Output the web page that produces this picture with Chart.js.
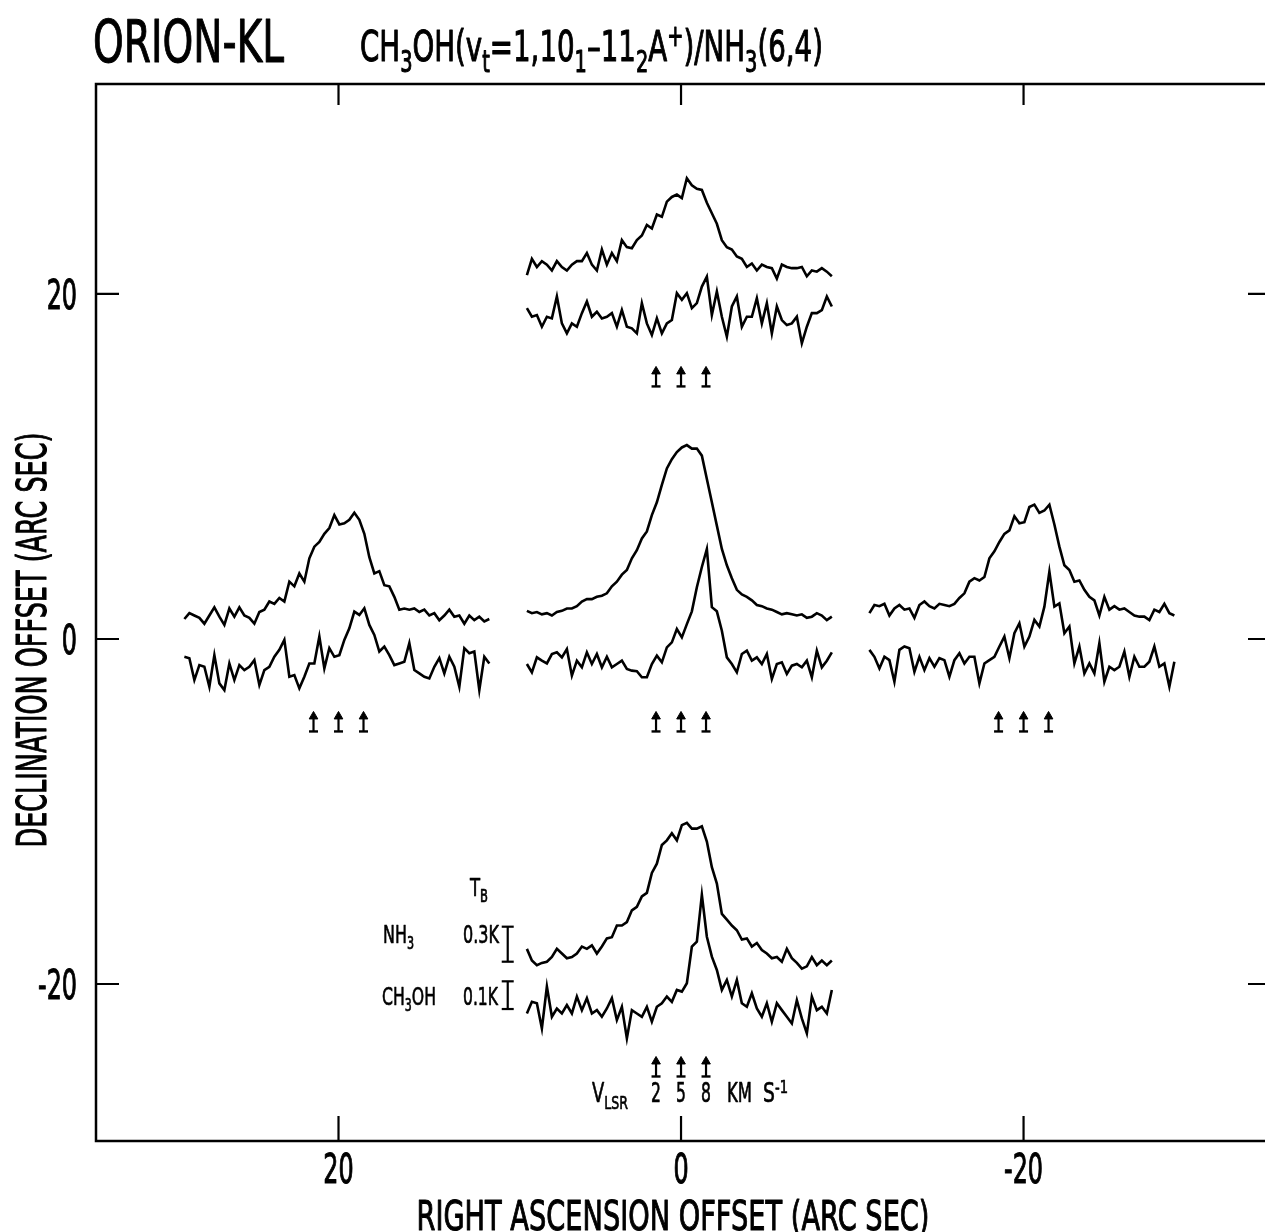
<!DOCTYPE html>
<html>
<head>
<meta charset="utf-8">
<title>ORION-KL CH3OH / NH3 spectra</title>
<script src="https://cdn.jsdelivr.net/npm/chart.js@4/dist/chart.umd.min.js"></script>
<style>
  html, body { margin: 0; padding: 0; background: #fff; overflow: hidden; }
  #wrap { position: relative; width: 1280px; height: 1232px; }
</style>
</head>
<body>
<div id="wrap"><canvas id="map"></canvas></div>
<script>
/* ORION-KL: CH3OH(vt=1) and NH3(6,4) spectra placed on the RA/Dec offset grid */

// velocity channels (km/s), shared by every spectrum
const VELOCITY = [-13.5, -12.9, -12.3, -11.7, -11.1, -10.5, -9.9, -9.3, -8.7, -8.1,
  -7.5, -6.9, -6.3, -5.7, -5.1, -4.5, -3.9, -3.3, -2.7, -2.1,
  -1.5, -0.9, -0.3, 0.3, 0.9, 1.5, 2.1, 2.7, 3.3, 3.9,
  4.5, 5.1, 5.7, 6.3, 6.9, 7.5, 8.1, 8.7, 9.3, 9.9,
  10.5, 11.1, 11.7, 12.3, 12.9, 13.5, 14.1, 14.7, 15.3, 15.9,
  16.5, 17.1, 17.7, 18.3, 18.9, 19.5, 20.1, 20.7, 21.3, 21.9,
  22.5, 23.1];
const V_REF = 5;               // velocity sitting on the grid position
const ARROW_V = [2, 5, 8];     // marked velocities
const TICKS = [20, 0, -20];
const TICK_LABELS = ["20", "0", "-20"];

// observed positions (arc sec): north, east, centre, west, south
const POS_RA = [0, 20, 0, -20, 0];
const POS_DEC = [20, 0, 0, 0, -20];

// NH3(6,4) brightness temperature (K)
const NH3_N20 = [-0.03, 0.11, 0.04, 0.09, 0.06, 0.01, 0.09, 0.04, 0.01, 0.06,
  0.09, 0.09, 0.16, 0.06, 0.01, 0.19, 0.06, 0.16, 0.09, 0.27,
  0.21, 0.2, 0.27, 0.31, 0.4, 0.37, 0.49, 0.47, 0.6, 0.64,
  0.66, 0.63, 0.8, 0.74, 0.71, 0.7, 0.59, 0.5, 0.41, 0.27,
  0.21, 0.19, 0.13, 0.11, 0.04, 0.07, 0.01, 0.06, 0.04, 0.03,
  -0.06, 0.06, 0.04, 0.03, 0.03, 0.04, -0.04, 0.01, 0, 0.03,
  0, -0.04];
const NH3_E20 = [-0.02, 0.03, 0.01, -0.01, -0.06, 0.01, 0.08, 0, -0.07, 0.07,
  0, 0.08, 0.01, -0.01, -0.06, 0.04, 0.06, 0.13, 0.11, 0.16,
  0.13, 0.3, 0.26, 0.37, 0.3, 0.5, 0.6, 0.64, 0.71, 0.76,
  0.87, 0.79, 0.8, 0.83, 0.89, 0.83, 0.71, 0.51, 0.37, 0.39,
  0.27, 0.26, 0.17, 0.06, 0.07, 0.06, 0.07, 0.04, 0.06, 0.01,
  0.03, -0.03, 0.01, 0.06, 0, 0.01, -0.06, 0.01, -0.03, 0,
  -0.04, -0.02];
const NH3_C = [0.05, 0.03, 0.04, 0.02, 0.03, 0.01, 0.04, 0.05, 0.07, 0.07,
  0.09, 0.13, 0.15, 0.15, 0.17, 0.18, 0.2, 0.26, 0.3, 0.36,
  0.4, 0.5, 0.57, 0.67, 0.73, 0.87, 0.98, 1.13, 1.27, 1.35,
  1.41, 1.45, 1.47, 1.44, 1.44, 1.38, 1.18, 0.98, 0.78, 0.58,
  0.44, 0.33, 0.23, 0.19, 0.17, 0.14, 0.1, 0.09, 0.07, 0.06,
  0.04, 0.02, 0.03, 0.02, 0.01, 0.02, -0.01, 0, 0.03, 0.01,
  -0.03, 0];
const NH3_W20 = [0.03, 0.1, 0.09, 0.11, 0.01, 0.07, 0.1, 0.06, 0.07, -0.01,
  0.1, 0.13, 0.09, 0.07, 0.11, 0.1, 0.09, 0.11, 0.16, 0.2,
  0.3, 0.33, 0.31, 0.34, 0.5, 0.56, 0.64, 0.71, 0.74, 0.86,
  0.8, 0.81, 0.94, 0.96, 0.89, 0.91, 0.96, 0.79, 0.6, 0.44,
  0.4, 0.3, 0.31, 0.23, 0.17, 0.14, 0.01, 0.17, 0.06, 0.09,
  0.06, 0.07, 0.04, 0.01, 0, 0, -0.03, 0.06, 0.04, 0.11,
  0.03, 0.01];
const NH3_S20 = [0.11, 0.01, -0.03, -0.01, 0, 0.04, 0.11, 0.07, 0.03, 0.04,
  0.07, 0.13, 0.11, 0.14, 0.07, 0.13, 0.2, 0.21, 0.31, 0.31,
  0.34, 0.44, 0.47, 0.56, 0.59, 0.76, 0.84, 1.0, 1.04, 1.1,
  1.04, 1.17, 1.19, 1.14, 1.14, 1.16, 1.03, 0.81, 0.67, 0.41,
  0.36, 0.31, 0.27, 0.19, 0.2, 0.13, 0.16, 0.1, 0.07, 0.03,
  0.04, 0, 0.11, 0.03, -0.01, -0.06, -0.04, 0.04, -0.03, 0.01,
  -0.03, 0.01];

// CH3OH(vt=1, 10_1-11_2 A+) brightness temperature (K)
const CH3OH_N20 = [0.039, 0.008, 0.014, -0.028, 0.008, 0.002, 0.081, -0.016, -0.052, -0.016,
  -0.028, 0.021, 0.063, 0.008, 0.026, 0.002, 0.008, 0.021, -0.028, 0.032,
  -0.028, -0.034, -0.052, 0.057, -0.016, -0.058, 0.002, -0.052, -0.016, -0.004,
  0.093, 0.069, 0.093, 0.039, 0.057, 0.117, 0.153, 0.014, 0.099, 0.008,
  -0.064, 0.045, 0.081, -0.028, 0.008, 0.008, 0.075, -0.016, 0.057, -0.052,
  0.045, -0.004, -0.022, -0.016, 0.008, -0.088, -0.028, 0.021, 0.021, 0.032,
  0.081, 0.045];
const CH3OH_E20 = [0.026, 0.021, -0.058, -0.004, -0.01, -0.082, 0.032, -0.07, -0.094, 0.002,
  -0.058, -0.004, -0.022, -0.01, 0.014, -0.076, -0.022, -0.01, 0.026, 0.051,
  0.087, -0.046, -0.04, -0.088, -0.046, 0.002, 0.002, 0.099, -0.016, 0.057,
  0.026, 0.032, 0.087, 0.129, 0.189, 0.177, 0.201, 0.141, 0.105, 0.045,
  0.063, 0.032, -0.004, 0.002, 0.008, 0.075, -0.022, -0.034, -0.046, -0.052,
  -0.01, 0.021, -0.034, 0.026, -0.01, -0.082, 0.057, 0.039, 0.045, -0.094,
  0.026, 0.002];
const CH3OH_C = [0, -0.03, 0.024, 0.012, 0.002, 0.036, 0.042, 0.024, 0.054, -0.042,
  0.012, -0.012, 0.042, 0, 0.036, -0.012, 0.026, -0.012, 0, 0.012,
  -0.018, -0.024, -0.026, -0.048, -0.048, 0, 0.03, 0.006, 0.06, 0.078,
  0.126, 0.096, 0.144, 0.19, 0.277, 0.35, 0.415, 0.205, 0.19, 0.12,
  0.024, 0, -0.03, 0.036, 0.048, 0.012, 0.024, 0, 0.036, -0.054,
  0, 0.006, -0.036, -0.006, 0, -0.012, 0.012, -0.048, 0.048, -0.012,
  0.012, 0.042];
const CH3OH_W20 = [0.051, 0.026, -0.016, 0.026, 0.014, -0.064, 0.051, 0.063, 0.057, -0.028,
  0.026, -0.022, 0.021, -0.01, 0.021, 0.014, -0.046, 0.014, 0.039, 0.002,
  0.026, 0.026, -0.07, 0.002, 0.014, 0.026, 0.063, 0.099, 0.021, 0.111,
  0.147, 0.063, 0.099, 0.159, 0.135, 0.207, 0.333, 0.207, 0.219, 0.111,
  0.135, 0.002, 0.063, -0.034, 0.002, -0.034, 0.075, -0.064, -0.01, -0.022,
  -0.01, 0.045, -0.046, 0.026, -0.01, -0.01, 0.008, 0.063, -0.01, 0.002,
  -0.082, 0.008];
const CH3OH_S20 = [-0.016, 0.026, 0.021, -0.07, 0.081, -0.028, 0.002, -0.016, 0.014, -0.016,
  0.045, -0.004, 0.039, -0.016, -0.004, -0.028, 0.002, 0.039, -0.04, 0.008,
  -0.106, -0.004, -0.016, -0.028, 0.008, -0.046, 0.008, 0.021, 0.045, 0.026,
  0.069, 0.063, 0.093, 0.225, 0.243, 0.412, 0.261, 0.189, 0.141, 0.069,
  0.105, 0.045, 0.105, 0.021, 0.008, 0.057, 0.002, -0.028, 0.021, -0.046,
  0.021, -0.004, -0.028, -0.052, 0.032, -0.034, -0.088, 0.045, -0.004, 0.008,
  -0.016, 0.069];

const NH3_SPECTRA = [NH3_N20, NH3_E20, NH3_C, NH3_W20, NH3_S20];
const CH3OH_SPECTRA = [CH3OH_N20, CH3OH_E20, CH3OH_C, CH3OH_W20, CH3OH_S20];

// temperature scale bars (drawn beside the southern spectrum)
const SCALE_BAR_V = -15.8;
const NH3_BAR_K = 0.3;
const CH3OH_BAR_K = 0.1;

// how a spectrum is laid onto the offset map
const ARCSEC_PER_KMS = 0.4865;
const NH3_ARCSEC_PER_K = 6.765;
const CH3OH_ARCSEC_PER_K = 16.06;
const NH3_BASE = 1.293;
const CH3OH_BASE = -1.45;
const ARROW_BASE = -5.36;
const ARROW_TIP = -4.49;
const INK = "#000";

function velToRa(ra, v) {
  return ra - (v - V_REF) * ARCSEC_PER_KMS;
}

function spectrum(values, ra, dec, base, perK) {
  return VELOCITY.map((v, i) => ({ x: velToRa(ra, v), y: dec + base + values[i] * perK }));
}

function lineSet(data, extra) {
  return Object.assign({
    data,
    borderColor: INK,
    borderWidth: 2.6,
    pointRadius: 0,
    tension: 0,
    fill: false,
  }, extra || {});
}

const datasets = [];
POS_RA.forEach((ra, p) => {
  const dec = POS_DEC[p];
  datasets.push(lineSet(spectrum(NH3_SPECTRA[p], ra, dec, NH3_BASE, NH3_ARCSEC_PER_K)));
  datasets.push(lineSet(spectrum(CH3OH_SPECTRA[p], ra, dec, CH3OH_BASE, CH3OH_ARCSEC_PER_K)));
  ARROW_V.forEach((v) => {
    const x = velToRa(ra, v);
    datasets.push(lineSet([{ x, y: dec + ARROW_BASE }, { x, y: dec + ARROW_TIP }], {
      borderWidth: 2.2,
      pointStyle: ["line", "triangle"],
      pointRadius: [4.5, 5],
      pointBorderWidth: [2.4, 1],
      pointBorderColor: INK,
      pointBackgroundColor: INK,
    }));
  });
});

// scale bars on the southern position
const barX = velToRa(POS_RA[4], SCALE_BAR_V);
const barDec = POS_DEC[4];
[[NH3_BASE, NH3_BAR_K * NH3_ARCSEC_PER_K], [CH3OH_BASE, CH3OH_BAR_K * CH3OH_ARCSEC_PER_K]].forEach(([base, len]) => {
  datasets.push(lineSet([{ x: barX, y: barDec + base }, { x: barX, y: barDec + base + len }], {
    borderWidth: 2.2,
    pointStyle: "line",
    pointRadius: 6,
    pointBorderWidth: 2.2,
    pointBorderColor: INK,
  }));
});

// plotter-like condensed lettering
function drawRuns(ctx, runs, o) {
  const size = o.cap / 0.729;
  const pieces = runs.map(([t, k]) => {
    const s = k === "n" ? size : size * 0.7;
    ctx.font = `${s}px "DejaVu Sans"`;
    return { t, k, s, w: ctx.measureText(t).width };
  });
  const natural = pieces.reduce((a, p) => a + p.w, 0);
  const sx = o.width ? o.width / natural : (o.sx || 0.58);
  const total = natural * sx;
  ctx.save();
  ctx.translate(o.x, o.y);
  if (o.rotate) ctx.rotate(o.rotate);
  const start = o.align === "center" ? -total / 2 : o.align === "right" ? -total : 0;
  ctx.scale(sx, 1);
  ctx.fillStyle = INK;
  ctx.strokeStyle = INK;
  ctx.lineWidth = o.cap > 25 ? 1.1 : 0.7;
  ctx.lineJoin = "round";
  ctx.textAlign = "left";
  ctx.textBaseline = "alphabetic";
  let cx = start / sx;
  pieces.forEach((p) => {
    ctx.font = `${p.s}px "DejaVu Sans"`;
    const dy = p.k === "sub" ? o.cap * 0.36 : p.k === "sup" ? -o.cap * 0.5 : 0;
    ctx.fillText(p.t, cx, dy);
    ctx.strokeText(p.t, cx, dy);
    cx += p.w;
  });
  ctx.restore();
}

const framePlugin = {
  id: "frame",
  afterDraw(chart) {
    const { ctx, chartArea: a, scales } = chart;
    const xs = scales.x, ys = scales.y;
    ctx.save();
    ctx.strokeStyle = INK;
    ctx.lineWidth = 2.5;
    ctx.strokeRect(a.left, a.top, a.right - a.left, a.bottom - a.top);
    ctx.lineWidth = 2.2;
    ctx.beginPath();
    TICKS.forEach((t) => {
      const x = xs.getPixelForValue(t);
      const y = ys.getPixelForValue(t);
      ctx.moveTo(x, a.top); ctx.lineTo(x, a.top + 21);
      ctx.moveTo(x, a.bottom); ctx.lineTo(x, a.bottom - 25);
      ctx.moveTo(a.left, y); ctx.lineTo(a.left + 23, y);
      ctx.moveTo(a.right, y); ctx.lineTo(a.right - 22, y);
    });
    ctx.stroke();
    ctx.restore();

    TICKS.forEach((t, i) => {
      drawRuns(ctx, [[TICK_LABELS[i], "n"]], { x: xs.getPixelForValue(t), y: a.bottom + 42, cap: 30, align: "center" });
      drawRuns(ctx, [[TICK_LABELS[i], "n"]], { x: a.left - 19, y: ys.getPixelForValue(t) + 15, cap: 30, align: "right" });
    });

    drawRuns(ctx, [["RIGHT ASCENSION OFFSET (ARC SEC)", "n"]], { x: 673, y: 1230, cap: 30, width: 513, align: "center" });
    drawRuns(ctx, [["DECLINATION OFFSET (ARC SEC)", "n"]], { x: 46, y: 640, cap: 30, width: 415, align: "center", rotate: -Math.PI / 2 });

    drawRuns(ctx, [["ORION-KL", "n"]], { x: 93, y: 62, cap: 43, width: 191 });
    drawRuns(ctx, [["CH", "n"], ["3", "sub"], ["OH(v", "n"], ["t", "sub"], ["=1,10", "n"], ["1", "sub"],
      ["\u201311", "n"], ["2", "sub"], ["A", "n"], ["+", "sup"], [")/NH", "n"], ["3", "sub"], ["(6,4)", "n"]],
      { x: 360, y: 61, cap: 31, width: 463 });

    // annotations beside the southern spectrum
    drawRuns(ctx, [["T", "n"], ["B", "sub"]], { x: 470, y: 896, cap: 18, width: 18 });
    drawRuns(ctx, [["NH", "n"], ["3", "sub"]], { x: 383, y: 943, cap: 18, width: 31 });
    drawRuns(ctx, [["CH", "n"], ["3", "sub"], ["OH", "n"]], { x: 382, y: 1005, cap: 18, width: 54 });
    drawRuns(ctx, [["0.3K", "n"]], { x: 463, y: 943, cap: 18, width: 36 });
    drawRuns(ctx, [["0.1K", "n"]], { x: 463, y: 1005, cap: 18, width: 35 });
    drawRuns(ctx, [["V", "n"], ["LSR", "sub"]], { x: 592, y: 1102, cap: 19, width: 36 });
    ARROW_V.forEach((v) => {
      drawRuns(ctx, [[String(v), "n"]], { x: xs.getPixelForValue(velToRa(POS_RA[4], v)), y: 1102, cap: 19, sx: 0.6, align: "center" });
    });
    drawRuns(ctx, [["KM", "n"]], { x: 727, y: 1102, cap: 19, width: 25 });
    drawRuns(ctx, [["S", "n"], ["-1", "sup"]], { x: 763, y: 1102, cap: 19, width: 25 });
  },
};

new Chart(document.getElementById("map"), {
  type: "line",
  data: { datasets },
  options: {
    responsive: true,
    maintainAspectRatio: false,
    animation: false,
    devicePixelRatio: 1,
    layout: { padding: { left: 96, top: 84, right: 10, bottom: 91 } },
    scales: {
      x: { type: "linear", min: -34.39, max: 34.16, reverse: true, display: false },
      y: { type: "linear", min: -29.1, max: 32.17, display: false },
    },
    plugins: { legend: { display: false }, tooltip: { enabled: false } },
  },
  plugins: [framePlugin],
});
</script>
</body>
</html>
